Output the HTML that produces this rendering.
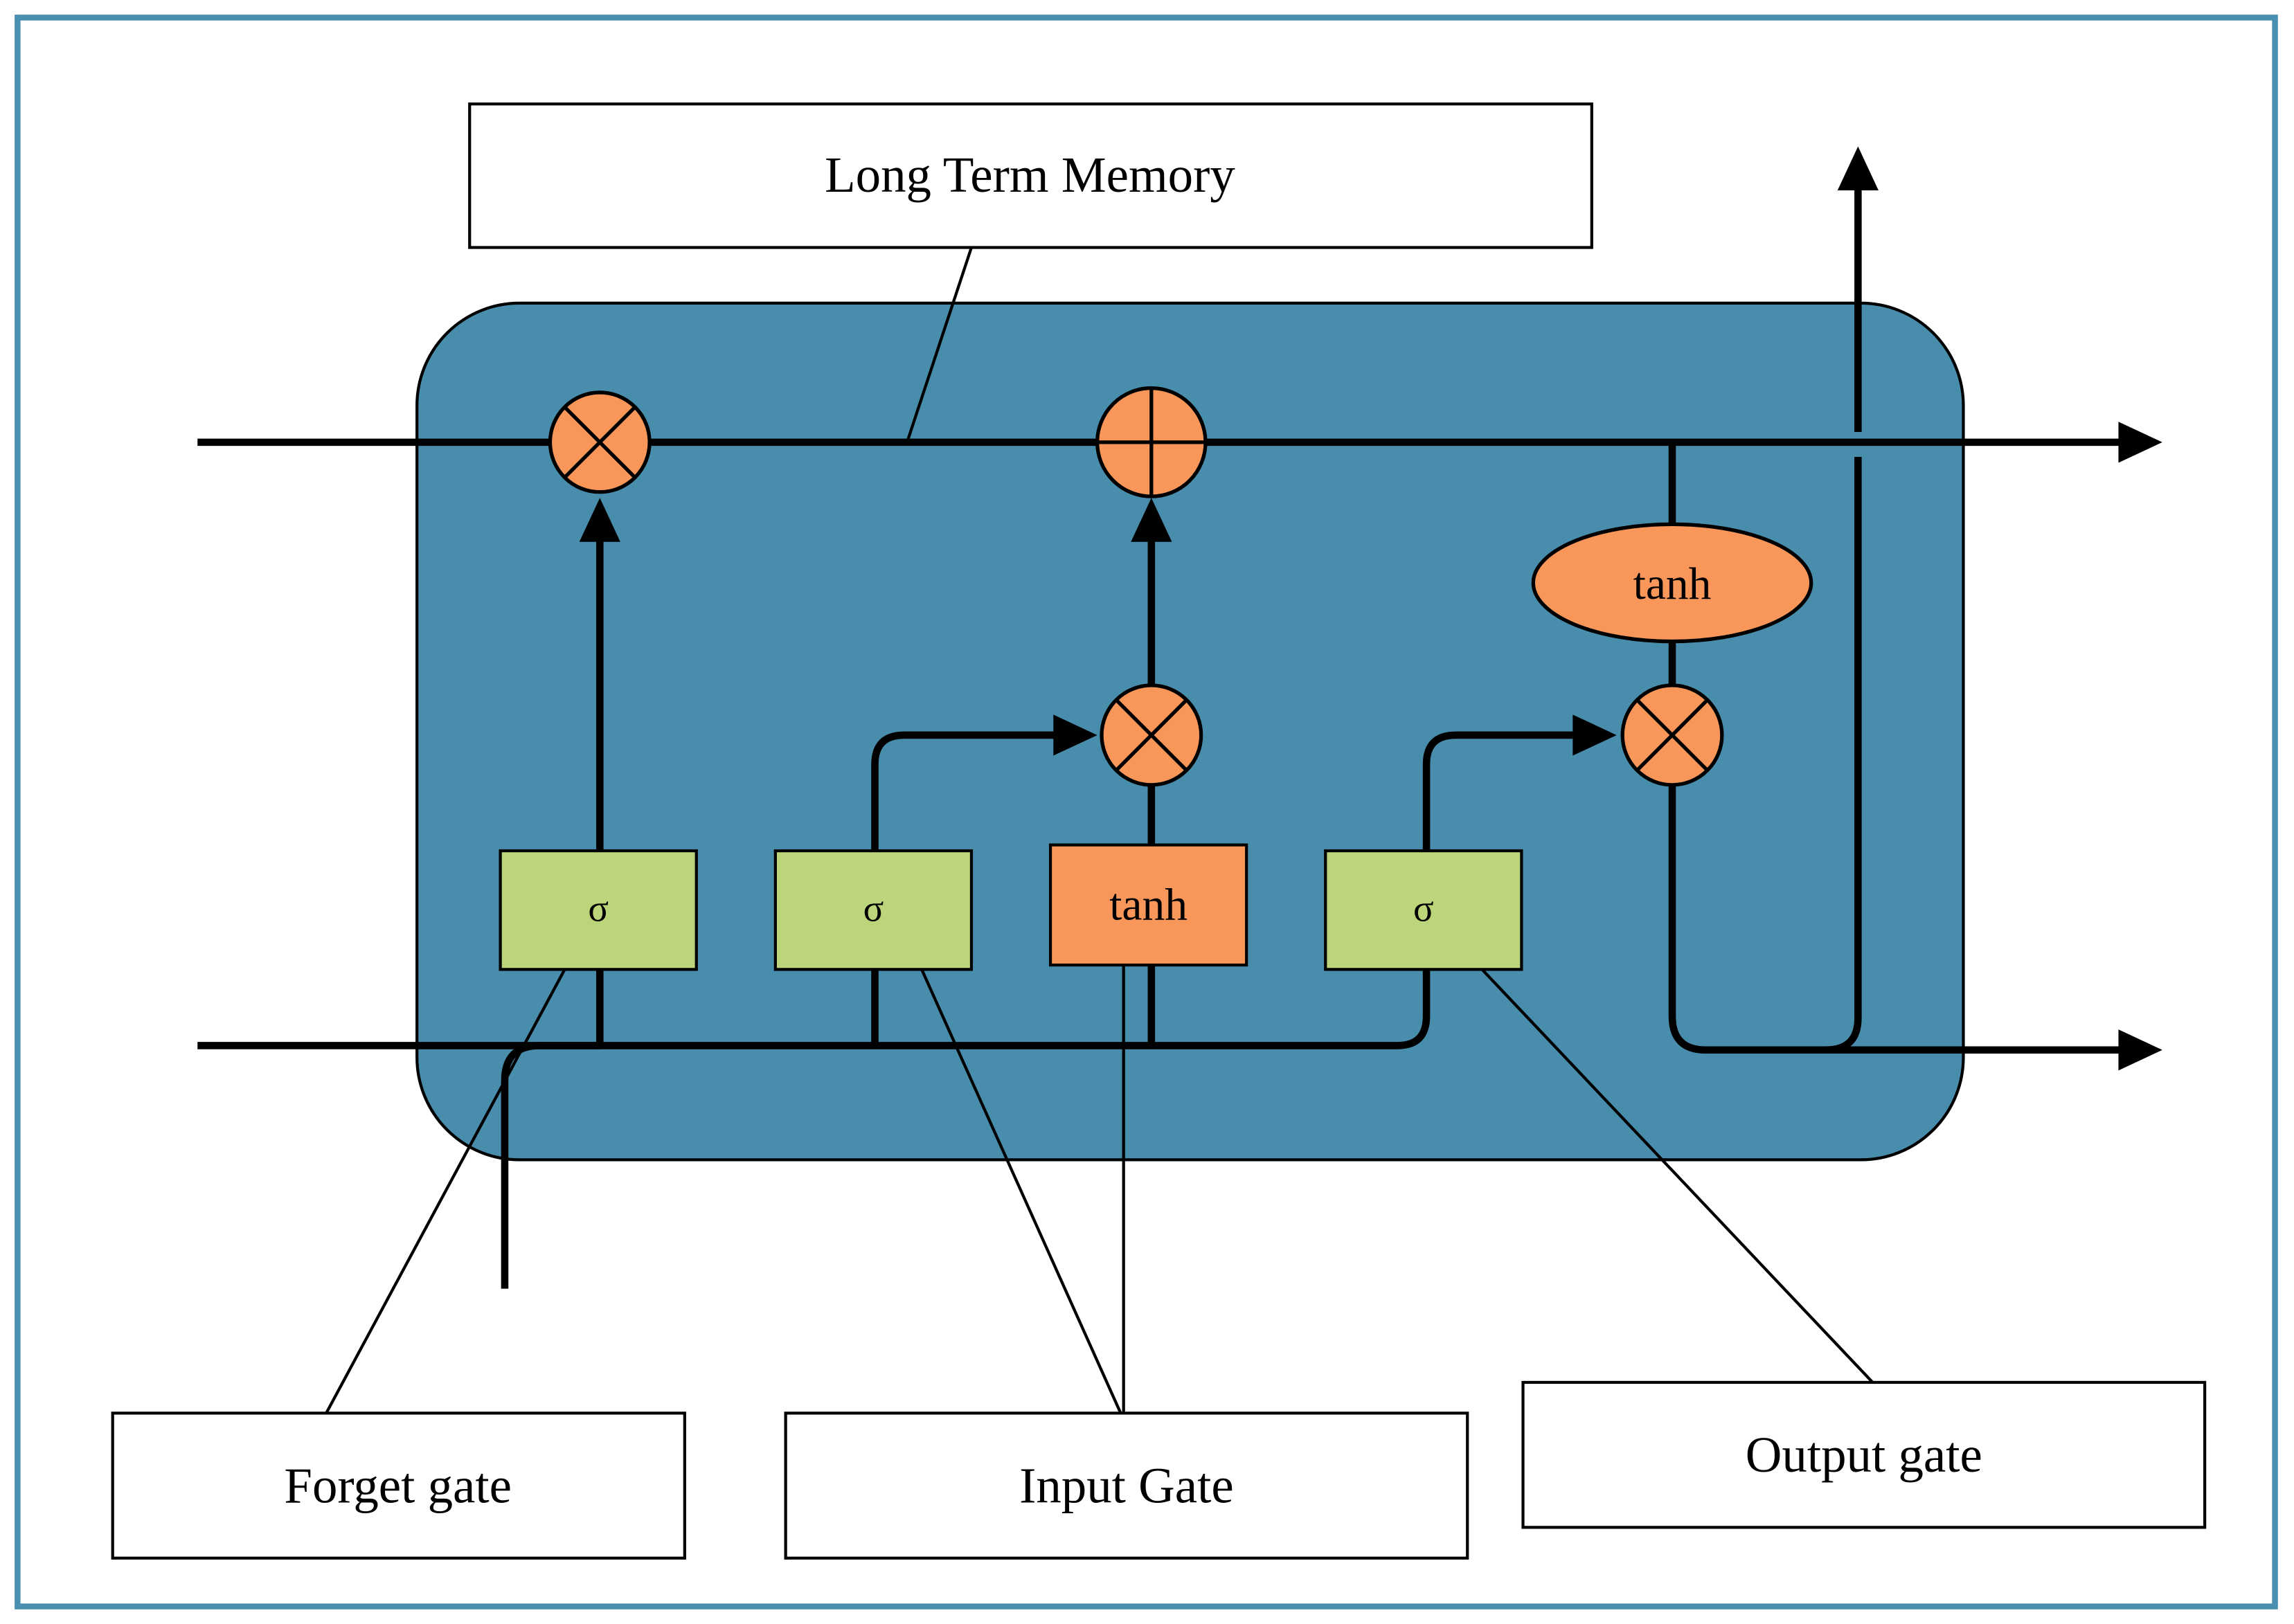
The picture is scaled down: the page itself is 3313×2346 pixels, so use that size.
<!DOCTYPE html>
<html><head><meta charset="utf-8"><style>
html,body{margin:0;padding:0;background:#fff;}
svg{display:block;}
text{font-family:"Liberation Serif",serif;fill:#000;}
</style></head><body>
<svg width="3313" height="2346" viewBox="0 0 1568 1109" preserveAspectRatio="none" xmlns="http://www.w3.org/2000/svg">
<rect x="0" y="0" width="1568" height="1109" fill="#fff"/>
<rect x="12" y="12" width="1543" height="1085" fill="none" stroke="#4a8fb0" stroke-width="4"/>
<rect x="321" y="71" width="767" height="98" fill="#fff" stroke="#000" stroke-width="2"/>
<text x="704" y="131" font-size="34.5" text-anchor="middle">Long Term Memory</text>
<rect x="285" y="207" width="1057" height="585" rx="70" fill="#488dac" stroke="#000" stroke-width="2"/>
<g fill="none" stroke="#000" stroke-width="5">
<line x1="135" y1="302" x2="1452" y2="302"/>
<path d="M135 714 H955 Q975 714 975 694 V662"/>
<path d="M345 880 V738 Q345 714 369 714 H410"/>
<line x1="410" y1="714" x2="410" y2="366"/>
<path d="M598 714 V662"/>
<path d="M598 581 V522 Q598 502 618 502 H722"/>
<line x1="787" y1="714" x2="787" y2="659"/>
<line x1="787" y1="577" x2="787" y2="536"/>
<line x1="787" y1="468" x2="787" y2="368"/>
<path d="M975 581 V522 Q975 502 995 502 H1077"/>
<line x1="1143" y1="302" x2="1143" y2="358"/>
<line x1="1143" y1="438" x2="1143" y2="468"/>
<path d="M1143 536 V694 Q1143 717 1166 717 H1452"/>
<path d="M1248 717 Q1270 717 1270 695 V312"/>
<line x1="1270" y1="295" x2="1270" y2="128"/>
</g>
<g fill="#000">
<polygon points="1478,302 1448,288 1448,316"/>
<polygon points="1478,717 1448,703 1448,731"/>
<polygon points="1270,100 1256,130 1284,130"/>
<polygon points="410,340 396,370 424,370"/>
<polygon points="787,340 773,370 801,370"/>
<polygon points="750,502 720,488 720,516"/>
<polygon points="1105,502 1075,488 1075,516"/>
</g>
<g stroke="#000" stroke-width="2.5" fill="#f9975a">
<circle cx="410" cy="302" r="34"/>
<circle cx="787" cy="302" r="37"/>
<circle cx="787" cy="502" r="34"/>
<circle cx="1143" cy="502" r="34"/>
<ellipse cx="1143" cy="398" rx="95" ry="40"/>
</g>
<g stroke="#000" stroke-width="2.5">
<line x1="386" y1="278" x2="434" y2="326"/><line x1="434" y1="278" x2="386" y2="326"/>
<line x1="787" y1="265" x2="787" y2="339"/><line x1="750" y1="302" x2="824" y2="302"/>
<line x1="763" y1="478" x2="811" y2="526"/><line x1="811" y1="478" x2="763" y2="526"/>
<line x1="1119" y1="478" x2="1167" y2="526"/><line x1="1167" y1="478" x2="1119" y2="526"/>
</g>
<text x="1143" y="409" font-size="31" text-anchor="middle">tanh</text>
<g stroke="#000" stroke-width="2">
<rect x="342" y="581" width="134" height="81" fill="#bdd57a"/>
<rect x="530" y="581" width="134" height="81" fill="#bdd57a"/>
<rect x="718" y="577" width="134" height="82" fill="#f9975a"/>
<rect x="906" y="581" width="134" height="81" fill="#bdd57a"/>
</g>
<text x="409" y="629" font-size="26" text-anchor="middle">σ</text>
<text x="597" y="629" font-size="26" text-anchor="middle">σ</text>
<text x="785" y="628" font-size="31" text-anchor="middle">tanh</text>
<text x="973" y="629" font-size="26" text-anchor="middle">σ</text>
<g stroke="#000" stroke-width="2" fill="none">
<line x1="664" y1="169" x2="620" y2="302"/>
<line x1="386" y1="662" x2="223" y2="965"/>
<line x1="630" y1="662" x2="766" y2="965"/>
<line x1="768" y1="659" x2="768" y2="965"/>
<line x1="1013" y1="662" x2="1280" y2="944"/>
</g>
<g stroke="#000" stroke-width="2" fill="#fff">
<rect x="77" y="965" width="391" height="99"/>
<rect x="537" y="965" width="466" height="99"/>
<rect x="1041" y="944" width="466" height="99"/>
</g>
<text x="272" y="1026" font-size="34.5" text-anchor="middle">Forget gate</text>
<text x="770" y="1026" font-size="34.5" text-anchor="middle">Input Gate</text>
<text x="1274" y="1005" font-size="34.5" text-anchor="middle">Output gate</text>
</svg>
</body></html>
